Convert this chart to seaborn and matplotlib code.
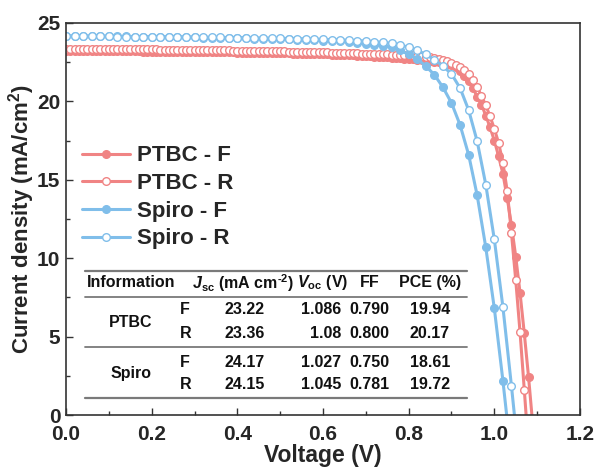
import numpy as np
import pandas as pd
import seaborn as sns
import matplotlib
matplotlib.use("Agg")
import matplotlib.pyplot as plt
from matplotlib.ticker import MultipleLocator

# ---------------- data ----------------
v_spiro_f = [0.00, 0.02, 0.04, 0.06, 0.08, 0.10, 0.12, 0.14, 0.16, 0.18,
             0.20, 0.22, 0.24, 0.26, 0.28, 0.30, 0.32, 0.34, 0.36, 0.38,
             0.40, 0.42, 0.44, 0.46, 0.48, 0.50, 0.52, 0.54, 0.56, 0.58,
             0.60, 0.62, 0.64, 0.66, 0.68, 0.70, 0.72, 0.74, 0.76, 0.78,
             0.80, 0.82, 0.84, 0.86, 0.88, 0.90, 0.92, 0.94, 0.96, 0.98,
             1.00, 1.02, 1.04]
j_spiro_f = [24.17, 24.17, 24.16, 24.16, 24.15, 24.15, 24.14, 24.14, 24.13, 24.13,
             24.12, 24.11, 24.11, 24.10, 24.09, 24.08, 24.07, 24.06, 24.05, 24.04,
             24.03, 24.02, 24.01, 24.00, 23.98, 23.97, 23.96, 23.94, 23.92, 23.90,
             23.88, 23.85, 23.82, 23.78, 23.74, 23.69, 23.62, 23.55, 23.45, 23.25,
             23.00, 22.70, 22.25, 21.70, 20.90, 19.90, 18.50, 16.60, 14.00, 10.70,
             6.80, 2.20, -2.80]

v_spiro_r = [0.00, 0.02, 0.04, 0.06, 0.08, 0.10, 0.12, 0.14, 0.16, 0.18,
             0.20, 0.22, 0.24, 0.26, 0.28, 0.30, 0.32, 0.34, 0.36, 0.38,
             0.40, 0.42, 0.44, 0.46, 0.48, 0.50, 0.52, 0.54, 0.56, 0.58,
             0.60, 0.62, 0.64, 0.66, 0.68, 0.70, 0.72, 0.74, 0.76, 0.78,
             0.80, 0.82, 0.84, 0.86, 0.88, 0.90, 0.92, 0.94, 0.96, 0.98,
             1.00, 1.02, 1.04, 1.06]
j_spiro_r = [24.15, 24.15, 24.15, 24.14, 24.14, 24.14, 24.13, 24.13, 24.13, 24.12,
             24.12, 24.12, 24.11, 24.11, 24.10, 24.10, 24.09, 24.09, 24.08, 24.07,
             24.07, 24.06, 24.05, 24.04, 24.03, 24.02, 24.01, 24.00, 23.99, 23.97,
             23.95, 23.94, 23.92, 23.90, 23.88, 23.85, 23.81, 23.76, 23.70, 23.60,
             23.45, 23.25, 23.00, 22.65, 22.25, 21.75, 20.85, 19.45, 17.45, 14.70,
             11.20, 6.90, 1.85, -3.50]

v_ptbc = [0.00, 0.01, 0.02, 0.03, 0.04, 0.05, 0.06, 0.07, 0.08, 0.09,
          0.10, 0.11, 0.12, 0.13, 0.14, 0.15, 0.16, 0.17, 0.18, 0.19,
          0.20, 0.21, 0.22, 0.23, 0.24, 0.25, 0.26, 0.27, 0.28, 0.29,
          0.30, 0.31, 0.32, 0.33, 0.34, 0.35, 0.36, 0.37, 0.38, 0.39,
          0.40, 0.41, 0.42, 0.43, 0.44, 0.45, 0.46, 0.47, 0.48, 0.49,
          0.50, 0.51, 0.52, 0.53, 0.54, 0.55, 0.56, 0.57, 0.58, 0.59,
          0.60, 0.61, 0.62, 0.63, 0.64, 0.65, 0.66, 0.67, 0.68, 0.69,
          0.70, 0.71, 0.72, 0.73, 0.74, 0.75, 0.76, 0.77, 0.78, 0.79,
          0.80, 0.81, 0.82, 0.83, 0.84, 0.85, 0.86, 0.87, 0.88, 0.89,
          0.90, 0.91, 0.92, 0.93, 0.94, 0.95, 0.96, 0.97, 0.98, 0.99,
          1.00, 1.01, 1.02, 1.03, 1.04, 1.05, 1.06, 1.07, 1.08, 1.09]
j_ptbc_f = [23.22, 23.22, 23.22, 23.22, 23.21, 23.21, 23.21, 23.21, 23.21, 23.20,
            23.20, 23.20, 23.20, 23.20, 23.19, 23.19, 23.19, 23.19, 23.18, 23.18,
            23.18, 23.18, 23.17, 23.17, 23.17, 23.17, 23.16, 23.16, 23.16, 23.15,
            23.15, 23.15, 23.14, 23.14, 23.14, 23.13, 23.13, 23.13, 23.12, 23.12,
            23.11, 23.11, 23.11, 23.10, 23.10, 23.09, 23.09, 23.08, 23.08, 23.07,
            23.07, 23.06, 23.06, 23.05, 23.04, 23.04, 23.03, 23.02, 23.02, 23.01,
            23.00, 22.99, 22.98, 22.97, 22.96, 22.95, 22.94, 22.93, 22.92, 22.90,
            22.89, 22.88, 22.86, 22.85, 22.83, 22.81, 22.79, 22.77, 22.75, 22.73,
            22.70, 22.68, 22.66, 22.63, 22.60, 22.57, 22.53, 22.49, 22.44, 22.38,
            22.30, 22.20, 21.95, 21.65, 21.30, 20.85, 20.30, 19.80, 19.10, 18.35,
            17.50, 16.50, 15.40, 13.85, 12.10, 10.10, 7.80, 5.20, 2.40, -0.70]
j_ptbc_r = [23.36, 23.36, 23.36, 23.35, 23.35, 23.35, 23.35, 23.34, 23.34, 23.34,
            23.34, 23.33, 23.33, 23.33, 23.33, 23.32, 23.32, 23.32, 23.31, 23.31,
            23.31, 23.31, 23.30, 23.30, 23.30, 23.29, 23.29, 23.29, 23.28, 23.28,
            23.28, 23.27, 23.27, 23.27, 23.26, 23.26, 23.26, 23.25, 23.25, 23.24,
            23.24, 23.24, 23.23, 23.23, 23.22, 23.22, 23.21, 23.21, 23.20, 23.20,
            23.19, 23.19, 23.18, 23.18, 23.17, 23.16, 23.16, 23.15, 23.14, 23.14,
            23.13, 23.12, 23.11, 23.11, 23.10, 23.09, 23.08, 23.07, 23.06, 23.05,
            23.04, 23.03, 23.02, 23.01, 23.00, 22.99, 22.98, 22.97, 22.96, 22.96,
            22.95, 22.93, 22.91, 22.88, 22.85, 22.81, 22.76, 22.70, 22.63, 22.55,
            22.45, 22.32, 22.17, 21.98, 21.75, 21.35, 20.90, 20.35, 19.75, 19.05,
            18.25, 17.35, 16.10, 14.30, 11.60, 8.60, 5.30, 1.60, -2.20, -6.00]

series_labels = ["PTBC - F", "PTBC - R", "Spiro - F", "Spiro - R"]

table_header = ["Information", r"$J$$_{\mathrm{sc}}$ (mA cm$^{\text{-2}}$)",
                r"$V$$_{\mathrm{oc}}$ (V)", "FF", "PCE (%)"]
table_device = ["PTBC", "Spiro"]
table_scan = ["F", "R", "F", "R"]
table_jsc = ["23.22", "23.36", "24.17", "24.15"]
table_voc = ["1.086", "1.08", "1.027", "1.045"]
table_ff = ["0.790", "0.800", "0.750", "0.781"]
table_pce = ["19.94", "20.17", "18.61", "19.72"]

# ---------------- style ----------------
sns.set_theme(style="ticks")
plt.rcParams["font.family"] = ["Liberation Sans", "DejaVu Sans"]
plt.rcParams["font.weight"] = "bold"
plt.rcParams["mathtext.fontset"] = "custom"
plt.rcParams["mathtext.rm"] = "Liberation Sans:bold"
plt.rcParams["mathtext.it"] = "Liberation Sans:italic:bold"
plt.rcParams["mathtext.bf"] = "Liberation Sans:bold"

red = "#F08484"
blue = "#80BEEA"

fig = plt.figure(figsize=(5.97, 4.68), dpi=100)
ax = fig.add_axes([0.1106, 0.1132, 0.8609, 0.8377])

frames = [
    pd.DataFrame({"V": v_ptbc, "J": j_ptbc_f}),
    pd.DataFrame({"V": v_ptbc, "J": j_ptbc_r}),
    pd.DataFrame({"V": v_spiro_f, "J": j_spiro_f}),
    pd.DataFrame({"V": v_spiro_r, "J": j_spiro_r}),
]
colors = [red, red, blue, blue]
filled = [True, False, True, False]

for df, lab, c, f in zip(frames, series_labels, colors, filled):
    sns.lineplot(data=df, x="V", y="J", ax=ax, color=c, lw=2.2,
                 marker="o", markersize=5.5,
                 markerfacecolor=c if f else "white",
                 markeredgecolor=c, markeredgewidth=1.0,
                 estimator=None, sort=False, label=lab)

ax.set_xlim(0, 1.2)
ax.set_ylim(0, 25)
ax.xaxis.set_major_locator(MultipleLocator(0.2))
ax.xaxis.set_minor_locator(MultipleLocator(0.1))
ax.yaxis.set_major_locator(MultipleLocator(5))
ax.yaxis.set_minor_locator(MultipleLocator(2.5))
ax.tick_params(which="both", direction="in", color="#333333")
ax.tick_params(which="major", length=5, width=1.0, labelsize=15)
ax.tick_params(axis="x", which="major", pad=7)
ax.tick_params(axis="y", which="major", pad=4)
ax.tick_params(which="minor", length=3, width=1.0)
for lbl in ax.get_xticklabels() + ax.get_yticklabels():
    lbl.set_fontweight("bold")
for s in ax.spines.values():
    s.set_linewidth(1.2)
    s.set_color("#333333")

ax.set_xlabel("Voltage (V)", fontsize=16.5, fontweight="bold", labelpad=0)
ax.set_ylabel("Current density (mA/cm$^{2}$)", fontsize=16, fontweight="bold", labelpad=0)

leg = ax.legend(loc="center left", bbox_to_anchor=(0.0, 0.555), frameon=False,
                prop={"size": 16, "weight": "bold"}, handlelength=2.2,
                handletextpad=0.3, labelspacing=0.3, borderpad=0.2, numpoints=1)

# ---------------- inset table ----------------
tf = dict(transform=ax.transAxes, fontsize=11.5, fontweight="bold",
          va="center", color="#111111")
x0, x1 = 0.037, 0.780
for yl, lw in [(0.367, 1.6), (0.301, 1.3), (0.173, 1.3), (0.043, 1.6)]:
    ax.plot([x0, x1], [yl, yl], transform=ax.transAxes, color="#7a7a7a",
            lw=lw, clip_on=False)

hy = 0.337
ax.text(0.041, hy, table_header[0], ha="left", **tf)
ax.text(0.345, hy, table_header[1], ha="center", **tf)
ax.text(0.500, hy, table_header[2], ha="center", **tf)
ax.text(0.590, hy, table_header[3], ha="center", **tf)
ax.text(0.708, hy, table_header[4], ha="center", **tf)

ax.text(0.126, 0.237, table_device[0], ha="center", **tf)
ax.text(0.126, 0.107, table_device[1], ha="center", **tf)

row_y = [0.268, 0.209, 0.135, 0.077]
for i, ry in enumerate(row_y):
    ax.text(0.222, ry, table_scan[i], ha="left", **tf)
    ax.text(0.348, ry, table_jsc[i], ha="center", **tf)
    ax.text(0.535, ry, table_voc[i], ha="right", **tf)
    ax.text(0.590, ry, table_ff[i], ha="center", **tf)
    ax.text(0.708, ry, table_pce[i], ha="center", **tf)

fig.savefig("out.png", dpi=100)
